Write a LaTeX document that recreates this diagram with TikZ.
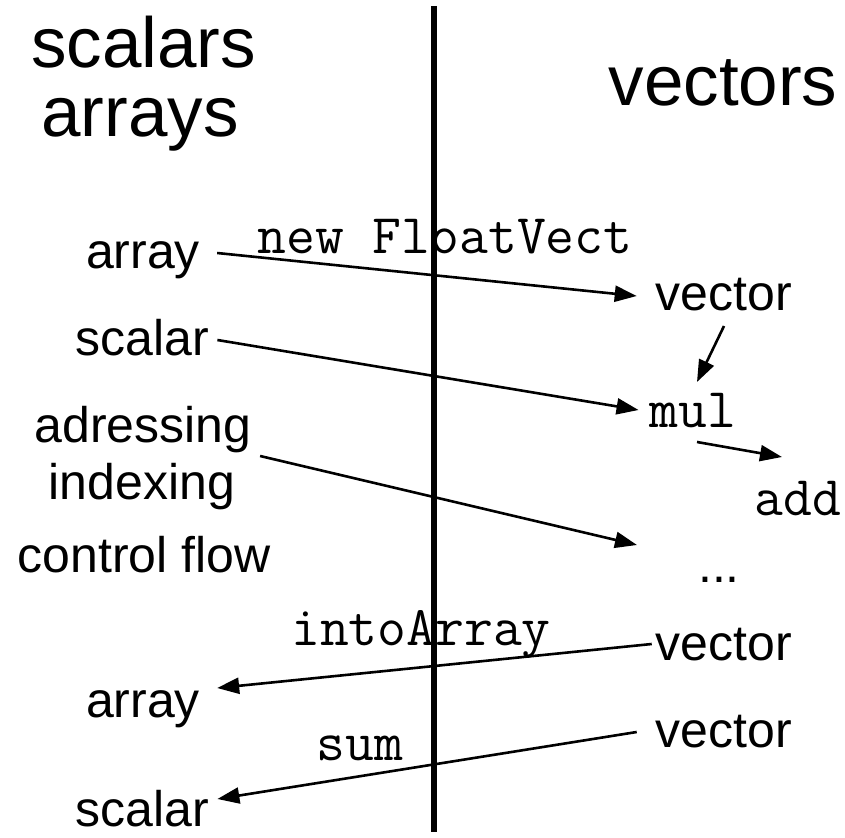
\documentclass[tikz,border=0pt]{standalone}
\usepackage{fontspec}
\setmainfont{Liberation Sans}
\usetikzlibrary{arrows.meta}
\begin{document}
\begin{tikzpicture}[x=1pt,y=-1pt,
  big/.style={font=\fontsize{71}{80}\selectfont, inner sep=0pt, anchor=base},
  lbl/.style={font=\fontsize{50}{60}\selectfont, inner sep=0pt, anchor=base},
  code/.style={font=\ttfamily\fontsize{56}{64}\selectfont, inner sep=0pt, anchor=base},
  conn/.style={line width=2.6pt, -{Triangle[length=22pt,width=16pt]}},
  divider/.style={line width=6pt}]
\useasboundingbox (0,0) rectangle (845,837);
% divider
\coordinate (ltop) at (434,6);
\coordinate (lbot) at (434,832);
\draw[divider] (ltop) -- (lbot);
% headings
\node[big] (hs) at (143.5,68) {scalars};
\node[big] (ha) at (140,137) {arrays};
\node[big] (hv) at (723,106) {vectors};
% left labels
\node[lbl] (arrT) at (143,268) {array};
\node[lbl] (sclT) at (142.5,355) {scalar};
\node[lbl] (adr) at (143,442) {adressing};
\node[lbl] (idx) at (142,499) {indexing};
\node[lbl] (cf) at (144,572) {control flow};
\node[lbl] (arrB) at (143,717) {array};
\node[lbl] (sclB) at (142.5,826) {scalar};
% right labels
\node[lbl] (vec1) at (724,310) {vector};
\node[code] (mul) at (693,427) {mul};
\node[code] (add) at (798,515) {add};
\node[lbl] (dots) at (719,582) {...};
\node[lbl] (vec2) at (724,660) {vector};
\node[lbl] (vec3) at (724,747) {vector};
% arrow labels
\node[code] (nfv) at (445,253) {new FloatVect};
\node[code] (ita) at (421,645) {intoArray};
\node[code] (sm) at (360,760) {sum};
% connectors
\draw[conn] ([shift={(17,-15)}]arrT.base east) -- ([shift={(-19,-14)}]vec1.base west);
\draw[conn] ([shift={(8,-15)}]sclT.base east) -- ([shift={(-11,-17)}]mul.base west);
\draw[conn] ([shift={(0,16)}]vec1.base) -- ([shift={(4,-45)}]mul.base);
\draw[conn] ([shift={(4,15)}]mul.base) -- ([shift={(-16,-58)}]add.base);
\draw[conn] ([shift={(8.5,14)}]adr.base east) -- ([shift={(-61,-37)}]dots.base west);
\draw[conn] ([shift={(-4,-16)}]vec2.base west) -- ([shift={(17,-29)}]arrB.base east);
\draw[conn] ([shift={(-19,-15)}]vec3.base west) -- ([shift={(8,-27)}]sclB.base east);
\end{tikzpicture}
\end{document}
